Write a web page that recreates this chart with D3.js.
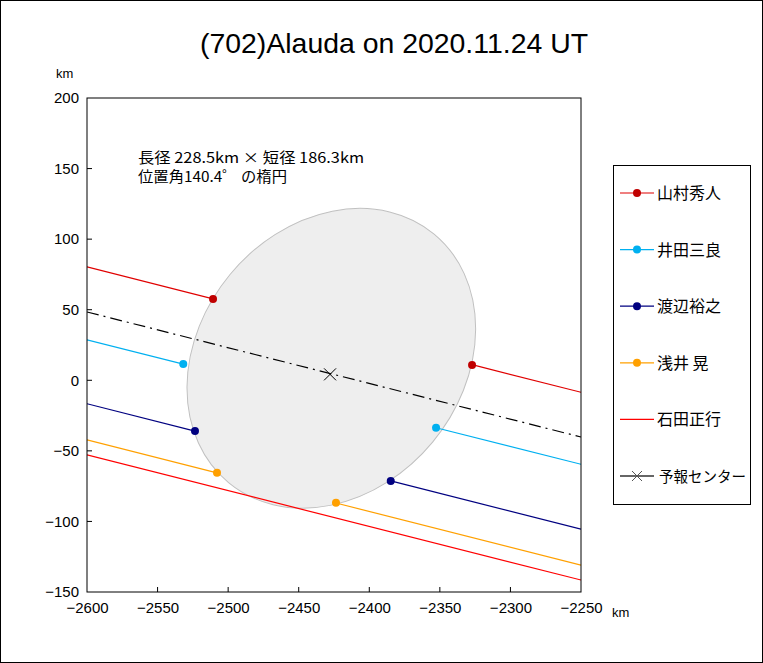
<!DOCTYPE html>
<html>
<head>
<meta charset="utf-8">
<script src="https://cdn.jsdelivr.net/npm/d3@7"></script>
<style>
  body { margin: 0; background: #fff; }
  svg text { font-family: "Liberation Sans", "Noto Sans CJK JP", sans-serif; }
  .jp { font-family: "Noto Sans CJK JP", sans-serif; }
</style>
</head>
<body>
<script>
// chord data (km)
const observers = ["山村秀人", "井田三良", "渡辺裕之", "浅井 晃", "石田正行"];
const lineColors = ["#e00000", "#00b0f0", "#000080", "#ffa000", "#ff0000"];
const dotColors = ["#c00000", "#00b0f0", "#000080", "#ffa000", null];
const yAtLeft = [80.3, 28.6, -16.6, -42.2, -52.9];    // y at x = -2600
const yAtRight = [-8.5, -59.5, -105.5, -131.0, -141.5]; // y at x = -2250
const disX = [-2510.7, -2531.8, -2523.5, -2507.9, null];
const disY = [57.6, 11.5, -35.9, -65.5, null];
const reaX = [-2327.2, -2352.7, -2384.8, -2423.6, null];
const reaY = [10.8, -33.6, -71.4, -86.7, null];

const predLine = [48.4, -40.2]; // y at left/right edge
const predCenter = [-2427.8, 4.2];

const ellipseCenter = [-2426.9, 15.6];
const majorAxis = 228.5, minorAxis = 186.3, posAngle = 140.4;

const xTicks = [-2600, -2550, -2500, -2450, -2400, -2350, -2300, -2250];
const yTicks = [-150, -100, -50, 0, 50, 100, 150, 200];

const W = 763, H = 663;
const margin = {left: 87, top: 98};
const pw = 494, ph = 494;

const svg = d3.select("body").append("svg")
  .attr("width", W).attr("height", H);

svg.append("rect")
  .attr("x", 0.5).attr("y", 0.5)
  .attr("width", W - 1).attr("height", H - 1)
  .attr("fill", "#fff").attr("stroke", "#000");

const xScale = d3.scaleLinear().domain([-2600, -2250]).range([0, pw]);
const yScale = d3.scaleLinear().domain([-150, 200]).range([ph, 0]);

svg.append("text")
  .attr("x", 200).attr("y", 53)
  .attr("font-size", 28)
  .attr("textLength", 388)
  .attr("lengthAdjust", "spacingAndGlyphs")
  .text("(702)Alauda on 2020.11.24 UT");

const g = svg.append("g")
  .attr("transform", `translate(${margin.left}, ${margin.top})`);

g.append("defs").append("clipPath").attr("id", "clip")
  .append("rect").attr("width", pw).attr("height", ph);

const plot = g.append("g").attr("clip-path", "url(#clip)");

// ellipse
const kmPx = xScale(1) - xScale(0);
plot.append("ellipse")
  .attr("cx", xScale(ellipseCenter[0]))
  .attr("cy", yScale(ellipseCenter[1]))
  .attr("rx", majorAxis / 2 * kmPx)
  .attr("ry", minorAxis / 2 * kmPx)
  .attr("transform", `rotate(${-(posAngle - 90)}, ${xScale(ellipseCenter[0])}, ${yScale(ellipseCenter[1])})`)
  .attr("fill", "#eeeeee")
  .attr("stroke", "#c0c0c0")
  .attr("stroke-width", 1);

// chords
observers.forEach((name, i) => {
  const slope = (yAtRight[i] - yAtLeft[i]) / 350;
  const yAt = x => yAtLeft[i] + slope * (x + 2600);
  const segs = disX[i] == null
    ? [[-2600, -2250]]
    : [[-2600, disX[i]], [reaX[i], -2250]];
  segs.forEach(s => {
    plot.append("line")
      .attr("x1", xScale(s[0])).attr("y1", yScale(yAt(s[0])))
      .attr("x2", xScale(s[1])).attr("y2", yScale(yAt(s[1])))
      .attr("stroke", lineColors[i])
      .attr("stroke-width", 1.2);
  });
  if (dotColors[i]) {
    [[disX[i], disY[i]], [reaX[i], reaY[i]]].forEach(p => {
      plot.append("circle")
        .attr("cx", xScale(p[0])).attr("cy", yScale(p[1]))
        .attr("r", 4)
        .attr("fill", dotColors[i]);
    });
  }
});

// prediction
plot.append("line")
  .attr("x1", xScale(-2600)).attr("y1", yScale(predLine[0]))
  .attr("x2", xScale(-2250)).attr("y2", yScale(predLine[1]))
  .attr("stroke", "#000")
  .attr("stroke-width", 1.2)
  .attr("stroke-dasharray", "12,5,2,5");

const cx = xScale(predCenter[0]), cy = yScale(predCenter[1]);
plot.append("path")
  .attr("d", `M${cx - 6},${cy - 6}L${cx + 6},${cy + 6}M${cx - 6},${cy + 6}L${cx + 6},${cy - 6}`)
  .attr("stroke", "#000")
  .attr("stroke-width", 1);

// frame + axes
g.append("rect")
  .attr("width", pw).attr("height", ph)
  .attr("fill", "none").attr("stroke", "#000");

const xAxis = d3.axisBottom(xScale).tickValues(xTicks)
  .tickSize(0).tickPadding(10)
  .tickFormat(d => d3.format("d")(d).replace("-", "−"));
const yAxis = d3.axisLeft(yScale).tickValues(yTicks)
  .tickSize(0).tickPadding(8)
  .tickFormat(d => d3.format("d")(d).replace("-", "−"));

const xg = g.append("g").attr("transform", `translate(0, ${ph})`).call(xAxis);
const yg = g.append("g").call(yAxis);
[xg, yg].forEach(a => {
  a.select(".domain").remove();
  a.selectAll("text").attr("font-size", 15).attr("fill", "#000")
    .attr("font-family", "Liberation Sans, sans-serif");
});

// inward tick marks
g.selectAll(".xt").data(xTicks.slice(1, -1)).join("line")
  .attr("x1", d => xScale(d)).attr("x2", d => xScale(d))
  .attr("y1", ph).attr("y2", ph - 5)
  .attr("stroke", "#000");
g.selectAll(".yt").data(yTicks.slice(1, -1)).join("line")
  .attr("y1", d => yScale(d)).attr("y2", d => yScale(d))
  .attr("x1", 0).attr("x2", 5)
  .attr("stroke", "#000");

svg.append("text").attr("x", 56).attr("y", 78)
  .attr("font-size", 13).text("km");
svg.append("text").attr("x", 612).attr("y", 617)
  .attr("font-size", 13).text("km");

// annotation
svg.append("text").attr("class", "jp")
  .attr("x", 138).attr("y", 163)
  .attr("font-size", 14.5)
  .attr("textLength", 226).attr("lengthAdjust", "spacingAndGlyphs")
  .text("長径 228.5km × 短径 186.3km");
svg.append("text").attr("class", "jp")
  .attr("x", 138).attr("y", 182)
  .attr("font-size", 14.5)
  .attr("textLength", 149).attr("lengthAdjust", "spacingAndGlyphs")
  .text("位置角140.4゜ の楕円");

// legend
const leg = svg.append("g");
leg.append("rect")
  .attr("x", 613.5).attr("y", 165.5)
  .attr("width", 137).attr("height", 339)
  .attr("fill", "#fff").attr("stroke", "#000");

const legNames = observers.concat(["予報センター"]);
legNames.forEach((name, i) => {
  const y = 193 + i * 56.6;
  const isPred = i === observers.length;
  leg.append("line")
    .attr("x1", 620).attr("x2", 654)
    .attr("y1", y).attr("y2", y)
    .attr("stroke", isPred ? "#333" : lineColors[i])
    .attr("stroke-width", isPred ? 1.5 : 1.2);
  if (isPred) {
    leg.append("path")
      .attr("d", `M${632},${y - 5}L${642},${y + 5}M${632},${y + 5}L${642},${y - 5}`)
      .attr("stroke", "#555");
  } else if (dotColors[i]) {
    leg.append("circle").attr("cx", 637).attr("cy", y).attr("r", 4)
      .attr("fill", dotColors[i]);
  }
  const t = leg.append("text").attr("class", "jp")
    .attr("x", isPred ? 659 : 657).attr("y", y + 6)
    .attr("font-size", isPred ? 15 : 16)
    .text(name);
  if (isPred) t.attr("textLength", 87).attr("lengthAdjust", "spacingAndGlyphs");
});
</script>
</body>
</html>
